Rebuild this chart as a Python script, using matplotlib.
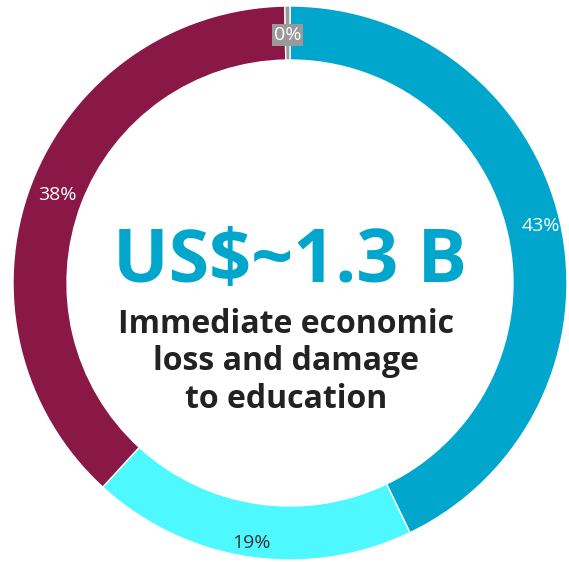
import matplotlib.pyplot as plt
import numpy as np

# share of loss by sector, clockwise from the top
values = [43, 19, 38, 0.3]
colors = ['#00a6cc', '#4df9ff', '#8a1846', '#999999']
label_colors = ['white', '#333333', 'white', 'white']
label_radii = [0.93, 0.95, 0.9, 0.895]

headline = 'US$~1.3 B'
subtitle = 'Immediate economic\nloss and damage\nto education'

plt.rcParams['font.family'] = ['Open Sans', 'Noto Sans', 'DejaVu Sans']

W, H = 569, 562
fig = plt.figure(figsize=(W / 100, H / 100), dpi=100)
ax = fig.add_axes([0, 0, 1, 1])

cx, cy = 290, H - 283
R = 277
ring = 0.195 * R

wedges, _ = ax.pie(values, colors=colors, startangle=90, counterclock=False,
                   radius=R, center=(cx, cy), frame=True,
                   wedgeprops=dict(width=ring, edgecolor='white', linewidth=1))
ax.set_xlim(0, W)
ax.set_ylim(0, H)
ax.set_aspect('equal')
ax.axis('off')

# percentage labels inside the ring
total = sum(values)
start = 90.0
for v, c, lr in zip(values, label_colors, label_radii):
    span = v / total * 360
    mid = np.deg2rad(start - span / 2)
    start -= span
    x, y = cx + lr * R * np.cos(mid), cy + lr * R * np.sin(mid)
    kw = {}
    if v < 1:
        kw['bbox'] = dict(facecolor='#999999', edgecolor='none', pad=1.2)
    ax.text(x, y, f'{v:.0f}%', color=c, fontsize=14, ha='center', va='center', **kw)

ax.text(cx, H - 263, headline, color='#00a6cc', fontsize=53, fontweight='bold',
        ha='center', va='center')
ax.text(cx - 4, H - 362, subtitle, color='#222222', fontsize=23, fontweight='bold',
        ha='center', va='center', linespacing=1.17)

fig.savefig('out.png', dpi=100)
